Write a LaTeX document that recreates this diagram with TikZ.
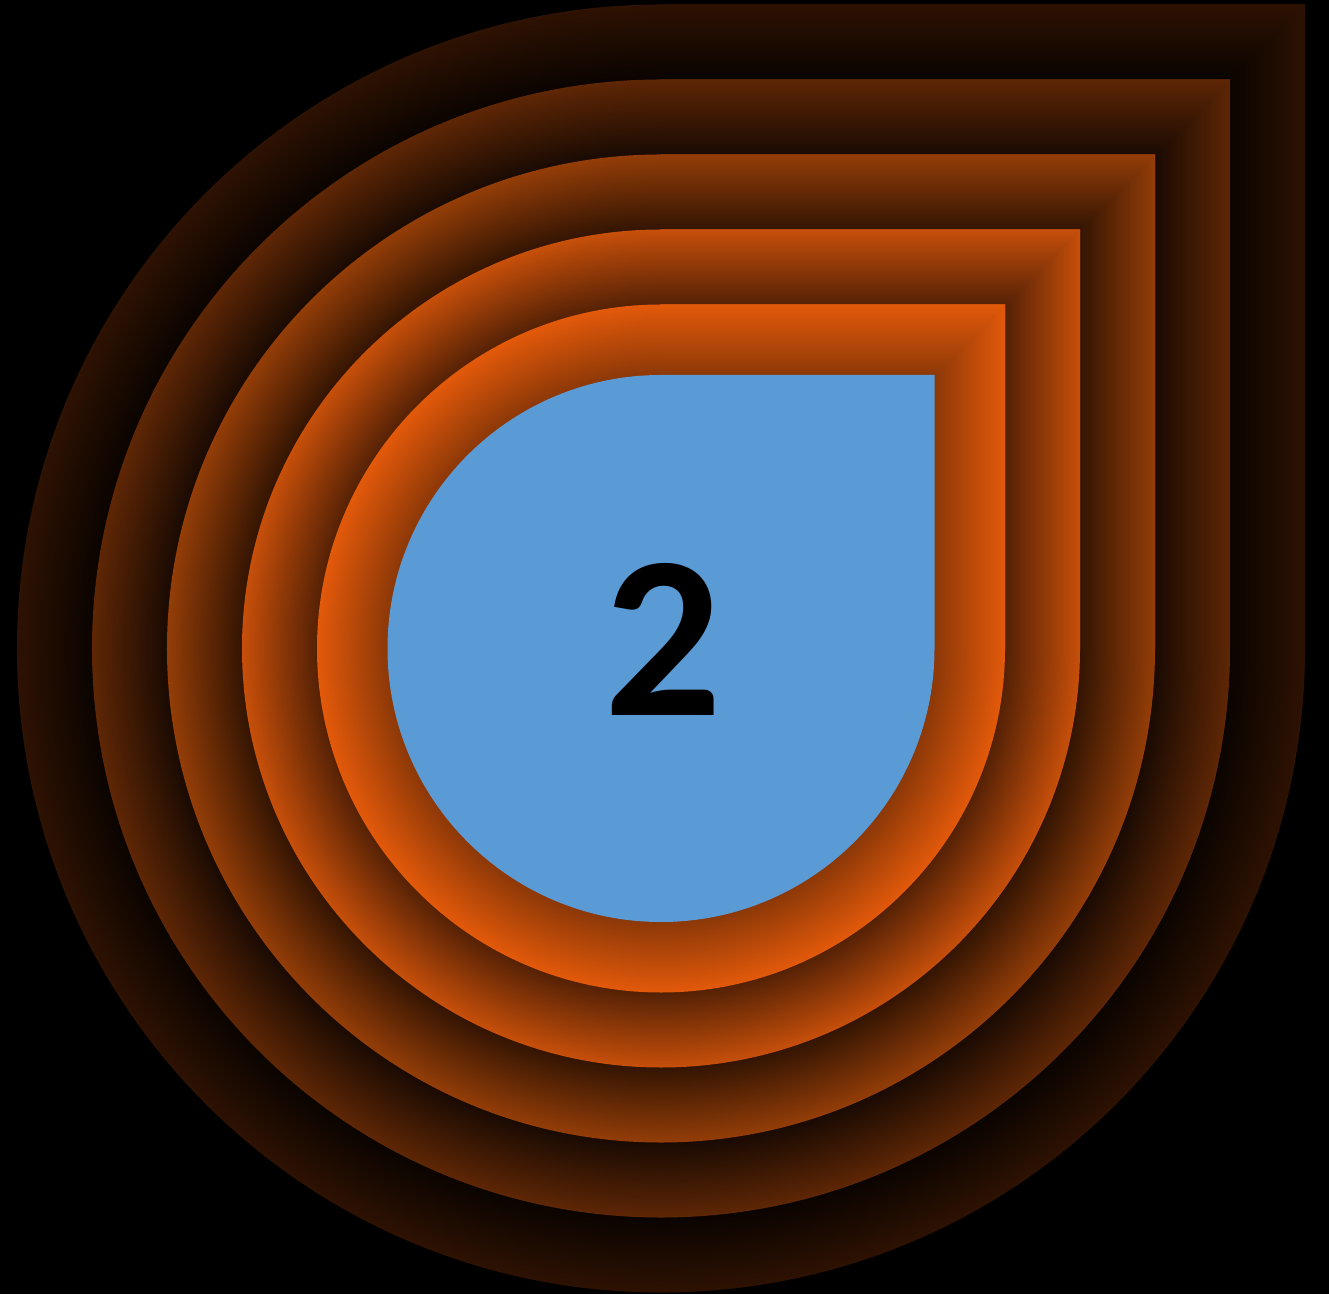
\documentclass[tikz,border=0pt]{standalone}
\usepackage{fontspec}
\setmainfont{Carlito}
\definecolor{dropblue}{HTML}{5B9BD5}

% one ring = radial shading for the round part, two axis shadings for the square corner
% #1 name, #2 radial dark stop, #3 axis dark stop, #4 dark rgb, #5 light rgb
\newcommand\ringshadings[5]{%
  \pgfdeclareradialshading{#1-round}{\pgfpointorigin}{rgb(0bp)=(#4); rgb(#2bp)=(#4);
    rgb(25bp)=(#5); rgb(50bp)=(#5)}%
  \pgfdeclareverticalshading{#1-up}{100bp}{rgb(0bp)=(#4); rgb(#3bp)=(#4);
    rgb(75bp)=(#5); rgb(100bp)=(#5)}%
  \pgfdeclarehorizontalshading{#1-side}{100bp}{rgb(0bp)=(#4); rgb(#3bp)=(#4);
    rgb(75bp)=(#5); rgb(100bp)=(#5)}}
\ringshadings{ringA}{19.9}{64.7}{0.55,0.22,0.03}{0.89,0.35,0.04}
\ringshadings{ringB}{20.5}{66.0}{0.33,0.13,0.02}{0.78,0.31,0.04}
\ringshadings{ringC}{21.2}{67.4}{0.20,0.08,0.01}{0.58,0.24,0.03}
\ringshadings{ringD}{21.7}{68.4}{0.10,0.04,0.01}{0.37,0.15,0.02}
\ringshadings{ringE}{22.1}{69.2}{0.04,0.015,0.0}{0.18,0.07,0.01}

\begin{document}
\begin{tikzpicture}
  \useasboundingbox (-6.61,-6.455) rectangle (6.68,6.485);
  \fill[black] (-6.61,-6.455) rectangle (6.68,6.485);
  % teardrop ring: round on three sides, square corner top right
  \newcommand\ring[2]{{%
    \shade[shading=#2-round] (0,#1) -- (#1,#1) -- (#1,0)
      arc[start angle=0,end angle=-270,radius=#1] -- cycle;
    \shade[shading=#2-up] (0,0) -- (#1,#1) -- (0,#1) -- cycle;
    \shade[shading=#2-side] (0,0) -- (#1,0) -- (#1,#1) -- cycle;}}
  \ring{6.44}{ringE}
  \ring{5.69}{ringD}
  \ring{4.94}{ringC}
  \ring{4.19}{ringB}
  \ring{3.44}{ringA}
  % blue drop
  \fill[dropblue] (0,2.735) -- (2.735,2.735) -- (2.735,0)
    arc[start angle=0,end angle=-270,radius=2.735] -- cycle;
  \node[inner sep=0] (num) at (0.02,0.095)
    {\fontsize{66}{66}\selectfont\bfseries 2};
\end{tikzpicture}
\end{document}
